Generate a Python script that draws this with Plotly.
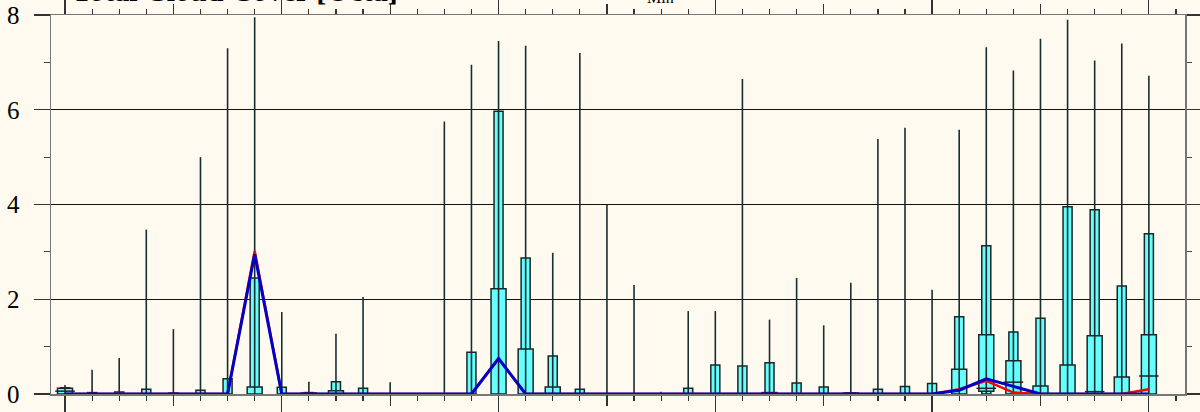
import plotly.graph_objects as go

# ---- data (hours from start, 3-hourly ensemble statistics, octa) ----
hours = list(range(0, 121, 3))
v_min = [0.0] * 41
v_p10 = [0.0] * 41
v_p25 = [0, 0, 0, 0, 0, 0, 0, 0, 0, 0, 0, 0, 0, 0, 0, 0, 0, 0, 0, 0, 0,
         0, 0, 0, 0, 0, 0, 0, 0, 0, 0, 0, 0, 0, 0.06, 0, 0, 0, 0, 0, 0]
v_med = [0.06, 0, 0, 0, 0, 0, 0, 0, 0, 0, 0, 0, 0, 0, 0, 0, 0, 0, 0, 0, 0,
         0, 0, 0, 0, 0, 0, 0, 0, 0, 0, 0, 0, 0, 0.12, 0.25, 0, 0, 0.05, 0, 0.38]
v_p75 = [0.12, 0, 0, 0, 0, 0, 0, 0.15, 0, 0.02, 0.07, 0, 0, 0, 0, 0, 2.22, 0.95, 0.15, 0, 0,
         0, 0, 0, 0, 0, 0.03, 0, 0, 0.02, 0, 0, 0, 0.52, 1.25, 0.7, 0.17, 0.61, 1.23, 0.36, 1.25]
v_p90 = [0.13, 0.03, 0.04, 0.1, 0.02, 0.08, 0.32, 2.45, 0.14, 0.03, 0.26, 0.12, 0, 0, 0, 0.88, 5.97, 2.87, 0.8, 0.1, 0,
         0, 0, 0.12, 0.61, 0.59, 0.66, 0.23, 0.15, 0.02, 0.1, 0.16, 0.22, 1.63, 3.13, 1.31, 1.6, 3.95, 3.89, 2.28, 3.38]
v_max = [0.19, 0.51, 0.76, 3.47, 1.37, 5.0, 7.3, 7.95, 1.73, 0.26, 1.27, 2.05, 0.25, 0, 5.75, 6.95, 7.45, 7.35, 2.98, 7.2, 4.0,
         2.3, 0.05, 1.75, 1.75, 6.65, 1.57, 2.45, 1.45, 2.35, 5.38, 5.62, 2.2, 5.58, 7.32, 6.83, 7.5, 7.9, 7.04, 7.4, 6.72]
red_line = [0, 0, 0, 0, 0, 0, 0, 3.02, 0, 0, 0, 0, 0, 0, 0, 0, 0.75, 0, 0, 0, 0,
            0, 0, 0, 0, 0, 0, 0, 0, 0, 0, 0, 0, 0.1, 0.28, 0.03, 0, 0, 0, 0, 0.1]
blue_line = [0, 0, 0, 0, 0, 0, 0, 2.95, 0, 0, 0, 0, 0, 0, 0, 0, 0.75, 0, 0, 0, 0,
             0, 0, 0, 0, 0, 0, 0, 0, 0, 0, 0, 0, 0.08, 0.32, 0.16, 0, 0, 0, 0, 0]
y_ticks = [0, 2, 4, 6, 8]
title_text = "Total Cloud Cover [Octa]"
sub_text = "Min"

BG = "#FFFAEF"
FILL = "#66FFFF"
EDGE = "#1c2626"
FONT = "Liberation Serif"
XR = [-1.55, 124.0]

fig = go.Figure()

# whiskers
wx, wy = [], []
for h, lo, hi in zip(hours, v_min, v_max):
    if hi > lo:
        wx += [h, h, None]
        wy += [lo, hi, None]
fig.add_trace(go.Scatter(x=wx, y=wy, mode="lines",
                         line=dict(color="#172e2e", width=1.6),
                         hoverinfo="skip", showlegend=False))

# narrow box p10-p90
fig.add_trace(go.Bar(x=hours,
                     y=[(b - a) if b > a else None for a, b in zip(v_p10, v_p90)],
                     base=v_p10, width=1.0,
                     marker=dict(color=FILL, line=dict(color=EDGE, width=1.5)),
                     hoverinfo="skip", showlegend=False))
# wide box p25-p75
fig.add_trace(go.Bar(x=hours,
                     y=[(b - a) if b > a else None for a, b in zip(v_p25, v_p75)],
                     base=v_p25, width=1.66,
                     marker=dict(color=FILL, line=dict(color=EDGE, width=1.5)),
                     hoverinfo="skip", showlegend=False))
# medians
mx = [h for h, m in zip(hours, v_med) if m > 0]
my = [m for m in v_med if m > 0]
fig.add_trace(go.Scatter(x=mx, y=my, mode="markers",
                         marker=dict(symbol="line-ew", size=14,
                                     line=dict(color=EDGE, width=1.5)),
                         hoverinfo="skip", showlegend=False))

fig.add_trace(go.Scatter(x=hours, y=red_line, mode="lines",
                         line=dict(color="#FF0000", width=2.5),
                         hoverinfo="skip", showlegend=False))
fig.add_trace(go.Scatter(x=hours, y=blue_line, mode="lines",
                         line=dict(color="#0000C8", width=3),
                         hoverinfo="skip", showlegend=False))

# dummy traces to activate overlay axes
for xa, ya in [("x2", "y2"), ("x3", "y"), ("x4", "y2")]:
    fig.add_trace(go.Scatter(x=[0], y=[0], xaxis=xa, yaxis=ya, mode="markers",
                             marker=dict(opacity=0), hoverinfo="skip", showlegend=False))

tick_common = dict(range=XR, showgrid=False, zeroline=False, showticklabels=False,
                   ticks="outside", tickcolor="#333", tickwidth=1.2, fixedrange=True,
                   automargin=False)

fig.update_layout(
    width=1200, height=412,
    margin=dict(l=51, r=15, t=15, b=18, autoexpand=False),
    paper_bgcolor=BG, plot_bgcolor=BG,
    barmode="overlay",
    showlegend=False,
    xaxis=dict(**tick_common, tickmode="linear", tick0=0, dtick=24, ticklen=18,
               showline=True, linecolor="#777", linewidth=1.5,
               minor=dict(tickmode="linear", tick0=0, dtick=3, ticklen=5,
                          ticks="outside", tickcolor="#333", showgrid=False)),
    xaxis3=dict(**tick_common, overlaying="x", anchor="y", side="bottom",
                tickmode="linear", tick0=12, dtick=24, ticklen=11, showline=False),
    xaxis2=dict(**tick_common, overlaying="x", anchor="y", side="top",
                tickmode="linear", tick0=0, dtick=24, ticklen=16,
                showline=True, linecolor="#777", linewidth=1.5,
                minor=dict(tickmode="linear", tick0=0, dtick=3, ticklen=5,
                           ticks="outside", tickcolor="#333", showgrid=False)),
    xaxis4=dict(**tick_common, overlaying="x", anchor="y", side="top",
                tickmode="linear", tick0=12, dtick=24, ticklen=10, showline=False),
    yaxis=dict(range=[0, 8], tickmode="array", tickvals=y_ticks,
               ticktext=[str(t) for t in y_ticks],
               ticks="outside", ticklen=16, tickcolor="#333", tickwidth=1.2,
               showgrid=True, gridcolor="#111", gridwidth=1, zeroline=False,
               showline=True, linecolor="#777", linewidth=1.5,
               tickfont=dict(family=FONT, size=25, color="#000"),
               ticklabelstandoff=9, fixedrange=True, automargin=False,
               minor=dict(tickmode="linear", tick0=1, dtick=2, ticklen=6,
                          ticks="outside", tickcolor="#444", showgrid=False)),
    yaxis2=dict(range=[0, 8], overlaying="y", side="right", anchor="x",
                tickmode="array", tickvals=y_ticks, showticklabels=False,
                ticks="outside", ticklen=15, tickcolor="#333", tickwidth=1.2,
                showgrid=False, zeroline=False, automargin=False,
                showline=True, linecolor="#777", linewidth=1.5, fixedrange=True,
                minor=dict(tickmode="linear", tick0=1, dtick=2, ticklen=5,
                           ticks="outside", tickcolor="#444", showgrid=False)),
    annotations=[
        dict(text="<b>" + title_text + "</b>", xref="paper", yref="paper",
             x=(70 - 51) / 1134, y=1 + 6.5 / 379, xanchor="left", yanchor="bottom",
             showarrow=False, font=dict(family=FONT, size=30, color="#000")),
        dict(text=sub_text, xref="paper", yref="paper",
             x=(645 - 51) / 1134, y=1 + 7 / 379, xanchor="left", yanchor="bottom",
             showarrow=False, font=dict(family=FONT, size=16, color="#000")),
    ],
)

fig.write_html(
    "out.html",
    config={"displayModeBar": False, "staticPlot": True},
    post_script="document.body.style.margin='0';document.body.style.overflow='hidden';"
                "document.body.style.background='" + BG + "';",
)
